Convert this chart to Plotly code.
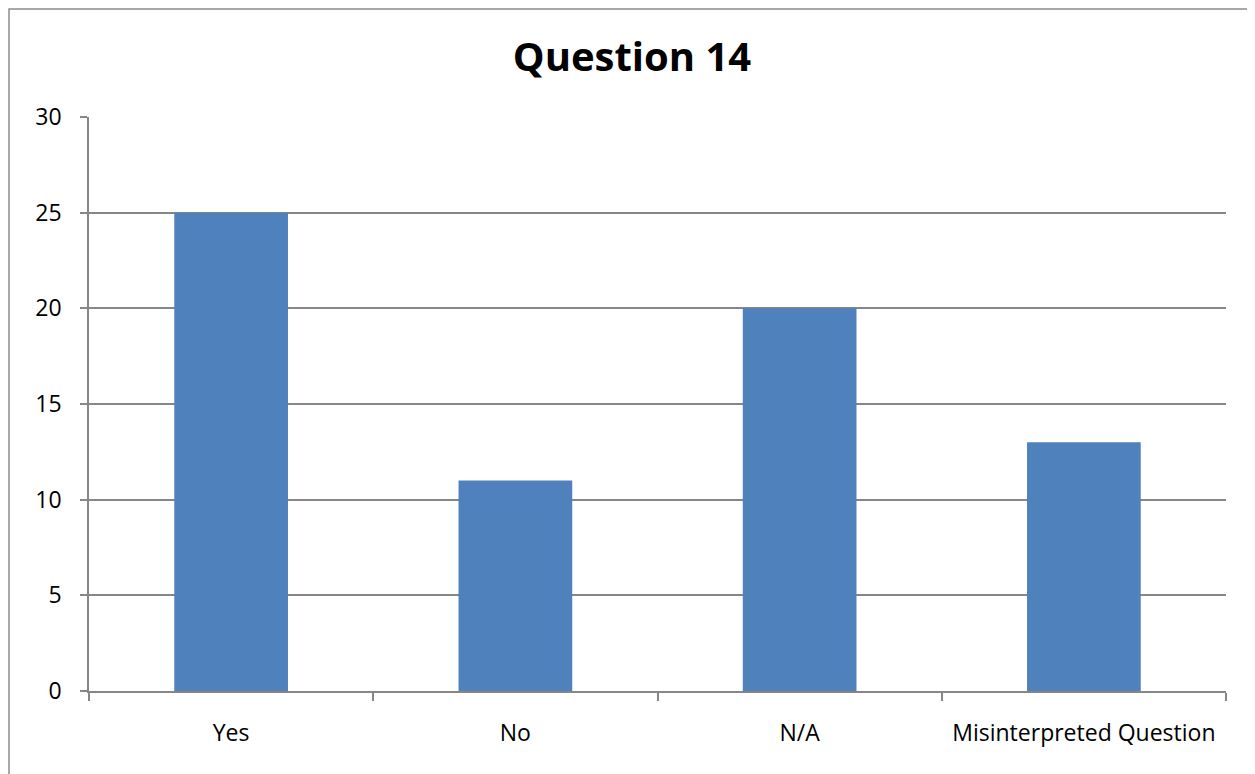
import plotly.graph_objects as go

categories = ["Yes", "No", "N/A", "Misinterpreted Question"]
counts = [25, 11, 20, 13]

# the page body adds an 8px offset, so the figure is 8px smaller than the window
OFF = 8
W, H = 1255 - OFF, 774 - OFF
L, R, T, B = 89 - OFF, 29, 117 - OFF, 83


def px_to_paper_x(px):
    return (px - OFF - L) / (W - L - R)


def px_to_paper_y(py):
    return (H - B - (py - OFF)) / (H - T - B)


fig = go.Figure()

fig.add_trace(
    go.Bar(
        x=categories,
        y=counts,
        marker=dict(color="#4F81BD", line=dict(width=0)),
        width=0.4,
        hoverinfo="x+y",
    )
)

# outer chart frame (only left and top edges visible in the picture)
fig.add_shape(
    type="rect",
    xref="paper",
    yref="paper",
    x0=px_to_paper_x(OFF + 1),
    x1=px_to_paper_x(1270),
    y0=px_to_paper_y(790),
    y1=px_to_paper_y(OFF + 1),
    line=dict(color="#8C8C8C", width=1.5),
    layer="below",
)

fig.update_layout(
    width=W,
    height=H,
    margin=dict(l=L, r=R, t=T, b=B),
    paper_bgcolor="white",
    plot_bgcolor="white",
    showlegend=False,
    font=dict(family="Open Sans, Liberation Sans, sans-serif", size=23, color="black"),
    title=dict(
        text="<b>Question 14</b>",
        x=(632 - OFF) / W,
        xanchor="center",
        y=1 - (57 - OFF) / H,
        yanchor="middle",
        font=dict(size=40, color="black"),
    ),
    xaxis=dict(
        showline=True,
        linecolor="#868686",
        linewidth=1.5,
        ticks="outside",
        tickson="boundaries",
        ticklen=8,
        tickcolor="#868686",
        tickwidth=1.5,
        showgrid=False,
        ticklabelstandoff=21,
    ),
    yaxis=dict(
        range=[0, 30],
        dtick=5,
        showline=True,
        linecolor="#868686",
        linewidth=1.5,
        ticks="outside",
        ticklen=7,
        tickcolor="#868686",
        tickwidth=1.5,
        showgrid=True,
        gridcolor="#868686",
        gridwidth=1.5,
        zeroline=False,
        ticklabelstandoff=14,
    ),
)

fig.write_html("out.html")
